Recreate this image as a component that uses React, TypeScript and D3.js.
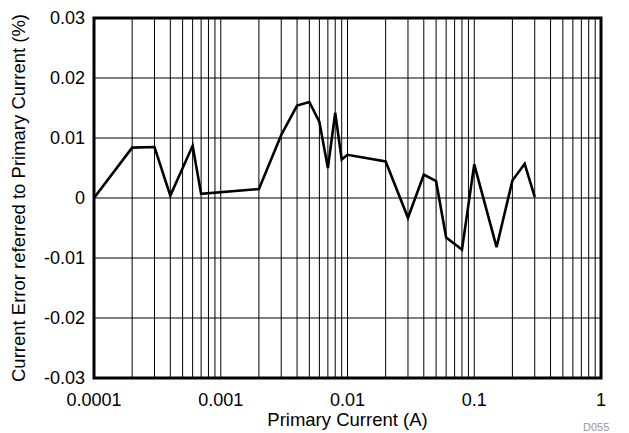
import React from "react";
import * as d3 from "d3";

const currentA = [0.0001, 0.0002, 0.0003, 0.0004, 0.0006, 0.0007, 0.002, 0.003, 0.004, 0.005, 0.006, 0.007, 0.008, 0.009, 0.01, 0.02, 0.03, 0.04, 0.05, 0.06, 0.08, 0.1, 0.15, 0.2, 0.25, 0.3];
const errorPct = [0, 0.0084, 0.0085, 0.0004, 0.0087, 0.0007, 0.0015, 0.0105, 0.0154, 0.016, 0.0127, 0.005, 0.0142, 0.0064, 0.0072, 0.0061, -0.0033, 0.0039, 0.0028, -0.0066, -0.0086, 0.0056, -0.0082, 0.0029, 0.0057, 0.0002];
const xTickValues = [0.0001, 0.001, 0.01, 0.1, 1];
const xTickLabels = ["0.0001", "0.001", "0.01", "0.1", "1"];
const yTickValues = [-0.03, -0.02, -0.01, 0, 0.01, 0.02, 0.03];
const yTickLabels = ["-0.03", "-0.02", "-0.01", "0", "0.01", "0.02", "0.03"];

const W = 629, H = 433;
const L = 94, R = 601, T = 18, B = 378;
const FONT = "'Liberation Sans', Arial, sans-serif";
const FS = 18;

export default function App() {
  const x = d3.scaleLog().domain([0.0001, 1]).range([L, R]);
  const y = d3.scaleLinear().domain([-0.03, 0.03]).range([B, T]);
  const minor: number[] = [];
  for (let e = -4; e < 0; e++) {
    for (let m = 1; m <= 9; m++) {
      const v = m * Math.pow(10, e);
      if (v > 0.0001 && v < 1) minor.push(v);
    }
  }
  const pts: [number, number][] = currentA.map((c, i) => [c, errorPct[i]]);
  const line = d3.line<[number, number]>().x(d => x(d[0])).y(d => y(d[1]));
  return (
    <svg width={W} height={H} style={{ position: "absolute", left: 0, top: 0, background: "#fff" }}>
      <rect x={0} y={0} width={W} height={H} fill="#fff" />
      {minor.map((v, i) => (
        <line key={"vx" + i} x1={x(v)} x2={x(v)} y1={T} y2={B} stroke="#000" strokeWidth={1} />
      ))}
      {yTickValues.map((v, i) => (
        <line key={"hy" + i} x1={L} x2={R} y1={y(v)} y2={y(v)} stroke="#000" strokeWidth={1} />
      ))}
      <path d={line(pts) || ""} fill="none" stroke="#000" strokeWidth={2.6} strokeLinejoin="miter" />
      <rect x={L} y={T} width={R - L} height={B - T} fill="none" stroke="#000" strokeWidth={3} />
      {yTickValues.map((v, i) => (
        <text key={"yl" + i} x={85} y={y(v)} dy="0.35em" textAnchor="end" fontFamily={FONT} fontSize={FS} fill="#000">
          {yTickLabels[i]}
        </text>
      ))}
      {xTickValues.map((v, i) => (
        <text key={"xl" + i} x={x(v)} y={406} textAnchor="middle" fontFamily={FONT} fontSize={FS} fill="#000">
          {xTickLabels[i]}
        </text>
      ))}
      <text x={(L + R) / 2} y={426} textAnchor="middle" fontFamily={FONT} fontSize={18.5} fill="#000">
        Primary Current (A)
      </text>
      <text transform={`translate(24.5,${(T + B) / 2}) rotate(-90)`} textAnchor="middle" fontFamily={FONT} fontSize={18.5} fill="#000">
        Current Error referred to Primary Current (%)
      </text>
      <text x={583} y={431} fontFamily={FONT} fontSize={11} fill="#999">D055</text>
    </svg>
  );
}
